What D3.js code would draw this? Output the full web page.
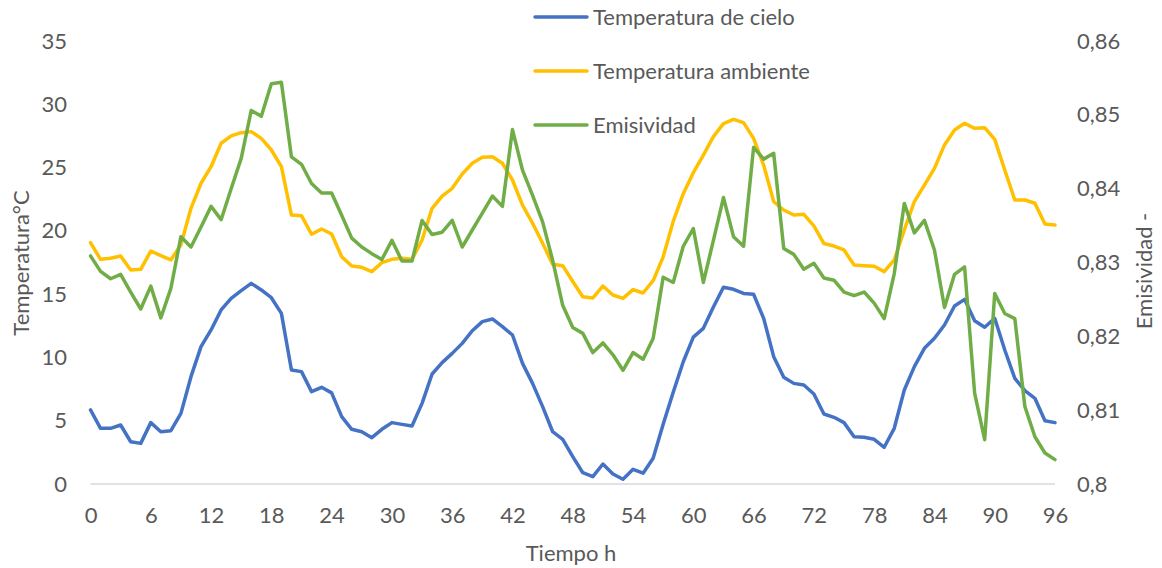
<!DOCTYPE html>
<html>
<head>
<meta charset="utf-8">
<script src="https://cdn.jsdelivr.net/npm/d3@7"></script>
<style>
  html, body { margin: 0; padding: 0; background: #fff; }
  svg { display: block; font-family: Lato, "Open Sans", sans-serif; }
</style>
</head>
<body>
<svg id="chart" width="1162" height="568"></svg>
<script>
// ---- data ----
const hours = d3.range(0, 97);
const xTicks = [0, 6, 12, 18, 24, 30, 36, 42, 48, 54, 60, 66, 72, 78, 84, 90, 96];
const leftTicks = [0, 5, 10, 15, 20, 25, 30, 35];
const rightTicks = [0.80, 0.81, 0.82, 0.83, 0.84, 0.85, 0.86];
const seriesNames = ["Temperatura de cielo", "Temperatura ambiente", "Emisividad"];

const tempCielo = [
  5.85, 4.40, 4.40, 4.66, 3.34, 3.21, 4.85, 4.13, 4.21, 5.58,
  8.48, 10.85, 12.17, 13.75, 14.67, 15.28, 15.85, 15.33, 14.72, 13.48,
  9.01, 8.88, 7.30, 7.64, 7.20, 5.32, 4.32, 4.13, 3.66, 4.32,
  4.85, 4.71, 4.58, 6.37, 8.69, 9.59, 10.32, 11.11, 12.11, 12.83,
  13.04, 12.43, 11.77, 9.53, 7.95, 6.11, 4.13, 3.53, 2.16, 0.89,
  0.58, 1.58, 0.79, 0.37, 1.16, 0.85, 2.03, 4.72, 7.25, 9.66,
  11.60, 12.30, 13.98, 15.54, 15.38, 15.06, 14.99, 13.09, 10.06, 8.43,
  7.95, 7.82, 7.11, 5.53, 5.27, 4.85, 3.74, 3.69, 3.53, 2.90,
  4.40, 7.43, 9.27, 10.72, 11.51, 12.56, 14.06, 14.59, 12.90, 12.38,
  13.09, 10.59, 8.35, 7.37, 6.77, 5.00, 4.85
];

const tempAmbiente = [
  19.07, 17.75, 17.83, 18.01, 16.91, 16.96, 18.41, 18.04, 17.70, 18.90,
  21.78, 23.76, 25.07, 26.92, 27.50, 27.76, 27.84, 27.31, 26.39, 25.07,
  21.25, 21.20, 19.73, 20.15, 19.75, 17.96, 17.22, 17.12, 16.78, 17.49,
  17.75, 17.83, 17.75, 19.28, 21.78, 22.75, 23.36, 24.49, 25.34, 25.81,
  25.86, 25.34, 24.02, 22.04, 20.60, 19.02, 17.36, 17.25, 16.00, 14.80,
  14.70, 15.64, 14.93, 14.67, 15.36, 15.09, 16.06, 17.95, 20.75, 22.94,
  24.60, 25.99, 27.45, 28.47, 28.81, 28.55, 27.31, 25.20, 22.31, 21.65,
  21.25, 21.31, 20.40, 19.00, 18.80, 18.49, 17.30, 17.25, 17.20, 16.78,
  17.70, 20.07, 22.31, 23.62, 24.94, 26.79, 27.97, 28.50, 28.10, 28.15,
  27.23, 24.81, 22.44, 22.44, 22.18, 20.54, 20.46
];

const emisividad = [
  0.8309, 0.8288, 0.8278, 0.8284, 0.8260, 0.8237, 0.8268, 0.8225, 0.8265, 0.8335,
  0.8321, 0.8348, 0.8376, 0.8358, 0.8400, 0.8441, 0.8506, 0.8498, 0.8542, 0.8544,
  0.8443, 0.8433, 0.8407, 0.8394, 0.8394, 0.8364, 0.8333, 0.8321, 0.8312, 0.8304,
  0.8330, 0.8302, 0.8302, 0.8357, 0.8338, 0.8341, 0.8357, 0.8321, 0.8344, 0.8367,
  0.8390, 0.8376, 0.8480, 0.8425, 0.8391, 0.8355, 0.8303, 0.8242, 0.8212, 0.8204,
  0.8178, 0.8191, 0.8175, 0.8154, 0.8178, 0.8169, 0.8197, 0.8280, 0.8273, 0.8322,
  0.8346, 0.8273, 0.8330, 0.8388, 0.8335, 0.8322, 0.8456, 0.8440, 0.8448, 0.8319,
  0.8311, 0.8291, 0.8299, 0.8279, 0.8276, 0.8260, 0.8255, 0.8260, 0.8245, 0.8224,
  0.8285, 0.8380, 0.8340, 0.8357, 0.8317, 0.8239, 0.8284, 0.8294, 0.8123, 0.8060,
  0.8258, 0.8231, 0.8224, 0.8105, 0.8064, 0.8042, 0.8033
];

// ---- drawing ----
const svg = d3.select("#chart");
const textColor = "#595959";
const fontSize = 22;
const colors = ["#4472C4", "#FFC000", "#70AD47"];

const x = d3.scaleLinear().domain([0, 96]).range([90.5, 1055]);
const yL = d3.scaleLinear().domain([0, 35]).range([484, 41]);
const yR = d3.scaleLinear().domain([0.8, 0.86]).range([484, 41]);

// baseline
svg.append("line")
  .attr("x1", x(0)).attr("x2", x(96))
  .attr("y1", yL(0)).attr("y2", yL(0))
  .attr("stroke", "#d9d9d9").attr("stroke-width", 1.5);

function styleAxis(g) {
  g.select(".domain").remove();
  g.selectAll(".tick line").remove();
  g.selectAll("text")
    .attr("fill", textColor)
    .style("font-size", fontSize + "px")
    .style("font-family", "Lato, 'Open Sans', sans-serif");
}

svg.append("g")
  .attr("transform", `translate(0,${yL(0)})`)
  .call(d3.axisBottom(x).tickValues(xTicks).tickSize(0).tickPadding(23.5).tickFormat(d3.format("d")))
  .call(styleAxis);

svg.append("g")
  .attr("transform", `translate(${x(0)},0)`)
  .call(d3.axisLeft(yL).tickValues(leftTicks).tickSize(0).tickPadding(23.5).tickFormat(d3.format("d")))
  .call(styleAxis);

svg.append("g")
  .attr("transform", `translate(${x(96)},0)`)
  .call(d3.axisRight(yR).tickValues(rightTicks).tickSize(0).tickPadding(22)
    .tickFormat(d => String(+d.toFixed(2)).replace(".", ",")))
  .call(styleAxis);

// axis titles
svg.append("text")
  .attr("transform", "translate(29,263) rotate(-90)")
  .attr("text-anchor", "middle")
  .attr("fill", textColor).style("font-size", fontSize + "px")
  .text("Temperatura°C");

svg.append("text")
  .attr("x", 571).attr("y", 561)
  .attr("text-anchor", "middle")
  .attr("fill", textColor).style("font-size", fontSize + "px")
  .text("Tiempo h");

svg.append("text")
  .attr("transform", "translate(1152,271) rotate(-90)")
  .attr("text-anchor", "middle")
  .attr("fill", textColor).style("font-size", fontSize + "px")
  .text("Emisividad -");

// lines
const lineL = d3.line().x((d, i) => x(hours[i])).y(d => yL(d));
const lineR = d3.line().x((d, i) => x(hours[i])).y(d => yR(d));

const seriesData = [
  { name: seriesNames[0], values: tempCielo, gen: lineL, color: colors[0] },
  { name: seriesNames[1], values: tempAmbiente, gen: lineL, color: colors[1] },
  { name: seriesNames[2], values: emisividad, gen: lineR, color: colors[2] }
];

svg.append("g").selectAll("path")
  .data(seriesData)
  .join("path")
  .attr("d", d => d.gen(d.values))
  .attr("fill", "none")
  .attr("stroke", d => d.color)
  .attr("stroke-width", 3.5)
  .attr("stroke-linejoin", "round")
  .attr("stroke-linecap", "round");

// legend
const legend = svg.append("g").selectAll("g")
  .data(seriesData)
  .join("g")
  .attr("transform", (d, i) => `translate(0,${17 + i * 54})`);

legend.append("line")
  .attr("x1", 535).attr("x2", 587)
  .attr("y1", 0).attr("y2", 0)
  .attr("stroke", d => d.color)
  .attr("stroke-width", 3.5)
  .attr("stroke-linecap", "round");

legend.append("text")
  .attr("x", 593).attr("y", 0).attr("dy", "0.35em")
  .attr("fill", textColor).style("font-size", fontSize + "px")
  .text(d => d.name);
</script>
</body>
</html>
